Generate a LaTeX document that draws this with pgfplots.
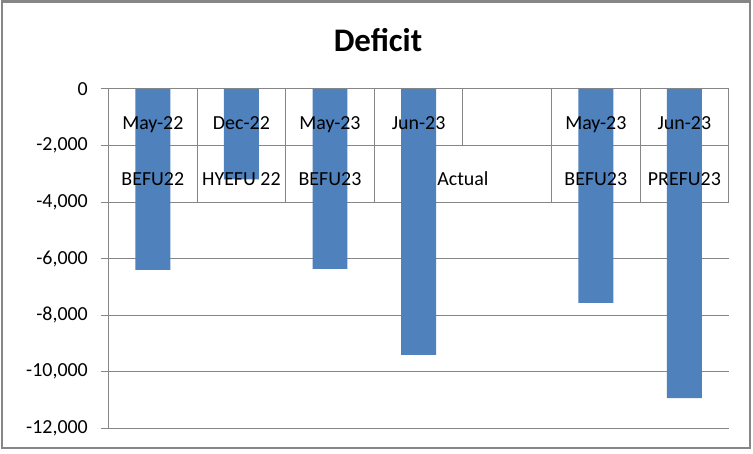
\documentclass[border=0pt]{standalone}
\usepackage{pgfplots}
\pgfplotsset{compat=1.18}
\usepackage{fontspec}
\setmainfont{Carlito}
\definecolor{barblue}{HTML}{4F81BD}
\definecolor{gridgray}{HTML}{868686}
\pgfplotstableread{
x y
0.5 -6400
1.5 -3200
2.5 -6360
3.5 -9400
5.5 -7560
6.5 -10930
}\deficit
\begin{document}
\begin{tikzpicture}
\useasboundingbox (0,0) rectangle (753bp,454bp);
\fill[white] (0,0) rectangle (753bp,454bp);
\draw[gridgray, line width=2.5bp] (1.8bp,6bp) rectangle (750bp,452.5bp);
\node[anchor=base, font=\fontsize{33}{38}\selectfont\bfseries] at (378bp,402bp) {Deficit};
\begin{axis}[
  at={(108.5bp,25.7bp)}, anchor=south west,
  scale only axis, width=620.2bp, height=339.3bp,
  xmin=0, xmax=7, ymin=-12000, ymax=0,
  enlargelimits=false,
  axis x line=none,
  axis y line*=left,
  axis line style={gridgray, line width=1bp},
  xtick=\empty,
  ytick={-12000,-10000,-8000,-6000,-4000,-2000,0},
  ymajorgrids,
  grid style={gridgray, line width=1bp},
  tick align=outside,
  major tick length=8bp,
  tick style={gridgray, line width=1bp},
  ytick pos=left,
  /pgf/number format/assume math mode=true,
  /pgf/number format/1000 sep={,},
  scaled y ticks=false,
  yticklabel style={font=\fontsize{20}{24}\selectfont, inner xsep=0pt, xshift=-12.5bp},
  clip=false,
]
% category label table lines (behind bars)
\draw[gridgray, line width=1bp] (axis cs:0,-2000) -- (axis cs:7,-2000);
\draw[gridgray, line width=1bp] (axis cs:0,-4000) -- (axis cs:7,-4000);
\pgfplotsinvokeforeach{1,2,3,5,6,7}{
  \draw[gridgray, line width=1bp] (axis cs:#1,0) -- (axis cs:#1,-4000);
}
\draw[gridgray, line width=1bp] (axis cs:4,0) -- (axis cs:4,-2000);
\addplot[ybar, bar width=0.395, fill=barblue, draw=none] table[x=x,y=y] {\deficit};
% category labels
\begin{scope}[every node/.style={anchor=base, font=\fontsize{20}{24}\selectfont}]
\node at (axis cs:0.5,-1450) {May-22};
\node at (axis cs:1.5,-1450) {Dec-22};
\node at (axis cs:2.5,-1450) {May-23};
\node at (axis cs:3.5,-1450) {Jun-23};
\node at (axis cs:5.5,-1450) {May-23};
\node at (axis cs:6.5,-1450) {Jun-23};
\node at (axis cs:0.5,-3400) {BEFU22};
\node at (axis cs:1.5,-3400) {HYEFU 22};
\node at (axis cs:2.5,-3400) {BEFU23};
\node at (axis cs:4,-3400) {Actual};
\node at (axis cs:5.5,-3400) {BEFU23};
\node at (axis cs:6.5,-3400) {PREFU23};
\end{scope}
\end{axis}
\end{tikzpicture}
\end{document}
